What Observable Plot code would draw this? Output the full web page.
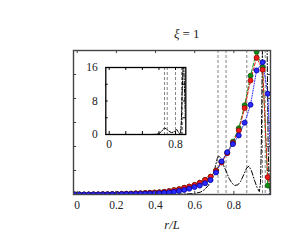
<!DOCTYPE html>
<html>
<head>
<meta charset="utf-8">
<script src="https://cdn.jsdelivr.net/npm/d3@7"></script>
<script src="https://cdn.jsdelivr.net/npm/@observablehq/plot@0.6"></script>
<style>
  body { margin: 0; background: white; }
  #wrap { position: relative; width: 300px; height: 250px; }
  #inset { position: absolute; left: 75px; top: 50px; }
</style>
</head>
<body>
<div id="wrap"><div id="main"></div><div id="inset"></div></div>
<script>
// ---- data ----
const xGrid = [-0.013, 0.011, 0.035, 0.059, 0.083, 0.107, 0.131, 0.155, 0.179, 0.203,
  0.227, 0.251, 0.275, 0.299, 0.323, 0.347, 0.371, 0.395, 0.419, 0.444,
  0.469, 0.494, 0.520, 0.546, 0.572, 0.599, 0.626, 0.653, 0.681, 0.709,
  0.737, 0.766, 0.795, 0.825, 0.855, 0.885, 0.916, 0.947, 0.973, 0.995];
const blueY = [0, 0, 0, 0, 0, 0, 0.005, 0.005, 0.01, 0.01,
  0.015, 0.02, 0.02, 0.025, 0.03, 0.035, 0.04, 0.045, 0.055, 0.07,
  0.085, 0.11, 0.15, 0.19, 0.24, 0.31, 0.37, 0.47, 0.60, 0.92,
  1.38, 1.76, 2.10, 2.46, 2.99, 3.74, 5.17, 5.51, 4.20, 0];
const redY = [0, 0, 0, 0, 0.005, 0.005, 0.01, 0.01, 0.015, 0.02,
  0.025, 0.03, 0.035, 0.045, 0.05, 0.06, 0.07, 0.08, 0.09, 0.11,
  0.14, 0.18, 0.22, 0.28, 0.33, 0.40, 0.49, 0.61, 0.74, 0.99,
  1.33, 1.72, 2.15, 2.67, 3.60, 4.75, 5.70, 5.20, 0.72, 0];
const greenY = [0, 0, 0, 0, 0.005, 0.005, 0.01, 0.01, 0.015, 0.02,
  0.025, 0.03, 0.035, 0.045, 0.05, 0.06, 0.07, 0.08, 0.09, 0.11,
  0.14, 0.18, 0.22, 0.28, 0.33, 0.40, 0.49, 0.61, 0.74, 1.0,
  1.35, 1.75, 2.2, 2.76, 3.72, 4.95, 5.95, 5.30, 0.375, 0];

const blackX = [0, 0.2, 0.4, 0.5, 0.55, 0.6, 0.63, 0.65, 0.67, 0.69, 0.705, 0.715, 0.722, 0.73,
  0.745, 0.76, 0.775, 0.79, 0.805, 0.82, 0.835, 0.85, 0.865, 0.877, 0.89, 0.905, 0.918,
  0.93, 0.936, 0.94, 0.945, 0.95, 0.955, 0.96, 0.965, 0.97, 0.975, 0.98, 0.985, 0.99];
const blackY = [0, 0, 0, 0.01, 0.02, 0.04, 0.1, 0.2, 0.38, 0.75, 1.15, 1.5, 1.62, 1.55,
  1.25, 0.98, 0.68, 0.47, 0.38, 0.4, 0.55, 0.82, 1.1, 1.18, 0.98, 0.6, 0.3,
  0.12, 0.5, 2, 5.5, 10, 15, 16, 12, 6, 2, 0.5, 0.1, 0];

const markerLines = [0.719, 0.760, 0.866, 0.946, 0.960];

const insetBlackX = [0, 0.3, 0.5, 0.56, 0.6, 0.63, 0.65, 0.667, 0.69, 0.72, 0.75, 0.78, 0.80,
  0.815, 0.83, 0.85, 0.86, 0.87, 0.88, 0.89, 0.90, 0.91, 0.92];
const insetBlackY = [0, 0, 0, 0.05, 0.2, 0.7, 1.2, 1.6, 1.3, 0.8, 0.45, 0.6, 1.0,
  1.2, 0.7, 0.15, 0.1, 3, 10, 16, 16, 10, 3];
const insetLines = [0.667, 0.700, 0.800, 0.872, 0.885];

const xTicks = [0, 0.2, 0.4, 0.6, 0.8];
const xTickLabels = ["0", "0.2", "0.4", "0.6", "0.8"];
const yTicks = [0, 1, 2, 3, 4, 5, 6];
const insetXTicks = [0, 0.2, 0.4, 0.6, 0.8];
const insetXLabelVals = [0, 0.8];
const insetXLabels = ["0", "0.8"];
const insetYTicks = [0, 4, 8, 12, 16];
const insetYLabelVals = [0, 8, 16];
const insetYLabels = ["0", "8", "16"];

const titleSym = "ξ";
const titleRest = "= 1";
const xLabel = "r/L";

// ---- tables ----
const series = [
  {name: "green", ys: greenY, color: "#109010", edge: "#0a5a0a", dash: "4,2"},
  {name: "red", ys: redY, color: "#ee1c1c", edge: "#a00000", dash: "3,2"},
  {name: "blue", ys: blueY, color: "#2a2aff", edge: "#0000a0", dash: "1,1.5"}
];
const black = blackX.map((x, i) => ({x, y: blackY[i]}));
const insetBlack = insetBlackX.map((x, i) => ({x, y: insetBlackY[i]}));

const serif = "'Liberation Serif', 'DejaVu Serif', serif";
const frameCol = "#444";

const seriesMarks = [];
for (const s of series) {
  const rows = xGrid.map((x, i) => ({x, y: s.ys[i]}));
  seriesMarks.push(Plot.line(rows, {x: "x", y: "y", stroke: s.color, strokeWidth: 1, strokeDasharray: s.dash, clip: true}));
}
for (const s of series) {
  const rows = xGrid.map((x, i) => ({x, y: s.ys[i]}));
  seriesMarks.push(Plot.dot(rows, {x: "x", y: "y", r: 2.5, fill: s.color, stroke: s.edge, strokeWidth: 0.8, clip: true}));
}

const main = Plot.plot({
  width: 300, height: 250,
  marginLeft: 73, marginRight: 30, marginTop: 50, marginBottom: 56,
  x: {domain: [-0.019, 0.987], axis: null},
  y: {domain: [0, 6], axis: null},
  style: {background: "white", fontFamily: serif, color: "black"},
  marks: [
    Plot.ruleX(markerLines, {x: d => d, stroke: "#666", strokeWidth: 0.8, strokeDasharray: "3,2"}),
    Plot.line(black, {x: "x", y: "y", stroke: "black", strokeWidth: 1, strokeDasharray: "5,2,1,2", clip: true}),
    ...seriesMarks,
    Plot.ruleX(xTicks, {x: d => d, y1: 0, y2: 0.13, stroke: frameCol, strokeWidth: 1}),
    Plot.ruleX(xTicks, {x: d => d, y1: 5.87, y2: 6, stroke: frameCol, strokeWidth: 1}),
    Plot.ruleY(yTicks, {y: d => d, x1: -0.019, x2: -0.003, stroke: frameCol, strokeWidth: 1}),
    Plot.ruleY(yTicks, {y: d => d, x1: 0.971, x2: 0.987, stroke: frameCol, strokeWidth: 1}),
    Plot.frame({stroke: frameCol, strokeWidth: 1.4}),
    Plot.text(xTicks, {x: d => d, text: (d, i) => xTickLabels[i], frameAnchor: "bottom", dy: 14.5, fontSize: 11.5, fill: "#222"}),
    Plot.text([xLabel], {text: d => d, frameAnchor: "bottom", dy: 34, fontSize: 12.5, fontStyle: "italic", fill: "#222"}),
    Plot.text([titleSym], {text: d => d, frameAnchor: "top", dy: -22, dx: 7.5, fontSize: 13, fontStyle: "italic", textAnchor: "end", fill: "#222"}),
    Plot.text([titleRest], {text: d => d, frameAnchor: "top", dy: -22, dx: 10.5, fontSize: 13, textAnchor: "start", fill: "#222"})
  ]
});
document.getElementById("main").append(main);

const inset = Plot.plot({
  width: 115, height: 110,
  marginLeft: 30.3, marginRight: 4.7, marginTop: 17, marginBottom: 26,
  x: {domain: [-0.041, 0.924], axis: null},
  y: {domain: [0, 16], axis: null},
  style: {background: "transparent", fontFamily: serif, color: "black", overflow: "visible"},
  marks: [
    Plot.frame({fill: "white"}),
    Plot.ruleX(insetLines, {x: d => d, stroke: "#666", strokeWidth: 0.8, strokeDasharray: "3,2"}),
    Plot.line(insetBlack, {x: "x", y: "y", stroke: "black", strokeWidth: 1, strokeDasharray: "4,1.5,1,1.5", clip: true}),
    Plot.ruleX(insetXTicks, {x: d => d, y1: 0, y2: 0.7, stroke: "black", strokeWidth: 1}),
    Plot.ruleX(insetXTicks, {x: d => d, y1: 15.3, y2: 16, stroke: "black", strokeWidth: 1}),
    Plot.ruleY(insetYTicks, {y: d => d, x1: -0.041, x2: -0.012, stroke: "black", strokeWidth: 1}),
    Plot.ruleY(insetYTicks, {y: d => d, x1: 0.895, x2: 0.924, stroke: "black", strokeWidth: 1}),
    Plot.frame({stroke: "black", strokeWidth: 1.3}),
    Plot.text(insetXLabelVals, {x: d => d, text: (d, i) => insetXLabels[i], frameAnchor: "bottom", dy: 13.5, fontSize: 11.5, fill: "#222"}),
    Plot.text(insetYLabelVals, {y: d => d, text: (d, i) => insetYLabels[i], frameAnchor: "left", dx: -8, textAnchor: "end", fontSize: 11.5, fill: "#222"})
  ]
});
document.getElementById("inset").append(inset);
</script>
</body>
</html>
